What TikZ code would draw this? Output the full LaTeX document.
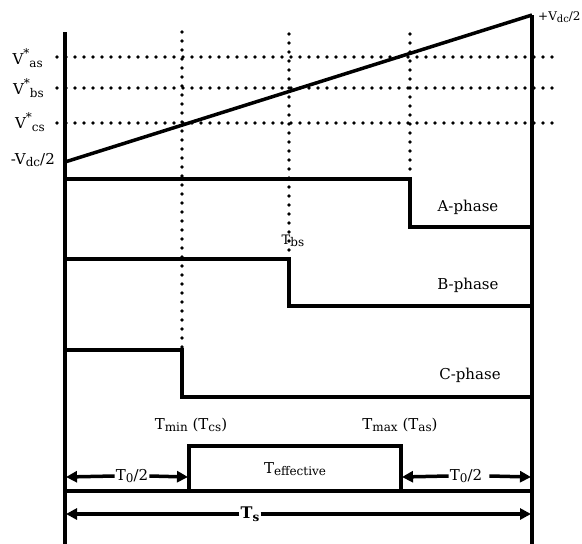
\documentclass[tikz,border=0pt]{standalone}
\usepackage{fontspec}
\setmainfont{DejaVu Serif}
\usetikzlibrary{arrows.meta}
\newcommand\lo[2][12]{\raisebox{-0.35ex}{\fontsize{#1}{13}\selectfont #2}}
\newcommand\hi[1]{\raisebox{0.9ex}{\fontsize{12}{13}\selectfont #1}}

\begin{document}
\begin{tikzpicture}[x=1pt, y=-1pt,
    wave/.style={line width=3.5pt},
    griddots/.style={line width=3.6pt, line cap=round, dash pattern=on 0pt off 9pt},
    span/.style={line width=3.5pt, -{Triangle[length=11pt,width=11pt]}},
    lbl/.style={font=\fontsize{15}{17}\selectfont, inner sep=1pt},
    small/.style={font=\fontsize{15}{17}\selectfont, inner sep=1pt}]
  \useasboundingbox (0,0) rectangle (582,544);

  % switching instants
  \def\tc{182}
  \def\tb{289}
  \def\ta{410}

  % reference levels
  \draw[griddots] (57,57) -- (552,57);
  \draw[griddots] (57,88) -- (552,88);
  \draw[griddots] (57,123) -- (552,123);
  \node[small, anchor=east] (vas) at (44,58) {V\hi{*}\lo{as}};
  \node[small, anchor=east] (vbs) at (45,88) {V\hi{*}\lo{bs}};
  \node[small, anchor=east] (vcs) at (46,122) {V\hi{*}\lo{cs}};

  \draw[griddots] (\tc,32) -- (\tc,347);
  \draw[griddots] (\tb,34) -- (\tb,252);
  \draw[griddots] (\ta,34) -- (\ta,172);

  % carrier ramp and frame
  \draw[wave] (65,32) -- (65,544);
  \draw[wave] (532,15) -- (532,544);
  \draw[wave] (65,162) -- (532,15);
  \node[small, anchor=east] (vmin) at (56,160) {-V\lo{dc}/2};
  \node[font=\fontsize{12}{14}\selectfont, inner sep=0pt, anchor=west] (vmax) at (538,17) {+V\lo[10]{dc}/2};

  % phase signals
  \draw[wave] (65,179) -- (\ta,179) -- (\ta,227) -- (532,227);
  \node[lbl] (pa) at (468,207) {A-phase};
  \draw[wave] (65,259) -- (\tb,259) -- (\tb,306) -- (532,306);
  \node[lbl] (pb) at (468,285) {B-phase};
  \node[font=\fontsize{13}{15}\selectfont, inner sep=1pt] (tbs) at (293,241) {T\lo{bs}};
  \draw[wave] (65,350) -- (\tc,350) -- (\tc,397) -- (532,397);
  \node[lbl] (pc) at (470,375) {C-phase};

  % timing
  \node[lbl] (tmin) at (191,425) {T\lo{min} (T\lo{cs})};
  \node[lbl] (tmax) at (400,425) {T\lo{max} (T\lo{as})};
  \draw[wave] (65,491) -- (532,491);
  \draw[wave] (189,491) -- (189,446) -- (401,446) -- (401,491);
  \node[lbl] (teff) at (295,469) {T\lo{effective}};

  \node[lbl] (zl) at (132,476) {T\lo{0}/2};
  \coordinate (zlL) at (66,477);
  \coordinate (zlR) at (188,477);
  \draw[span] (zl.west) -- (zlL);
  \draw[span] (zl.east) -- (zlR);

  \node[lbl] (zr) at (466,476) {T\lo{0}/2};
  \coordinate (zrL) at (402,477);
  \coordinate (zrR) at (531,477);
  \draw[span] (zr.west) -- (zrL);
  \draw[span] ([xshift=6pt]zr.east) -- (zrR);

  \node[lbl, font=\fontsize{16}{18}\selectfont\bfseries] (ts) at (250,514) {T\lo{\bfseries s}};
  \coordinate (tsL) at (66,514);
  \coordinate (tsR) at (531,514);
  \draw[span] (ts.west) -- (tsL);
  \draw[span] (ts.east) -- (tsR);
\end{tikzpicture}
\end{document}
